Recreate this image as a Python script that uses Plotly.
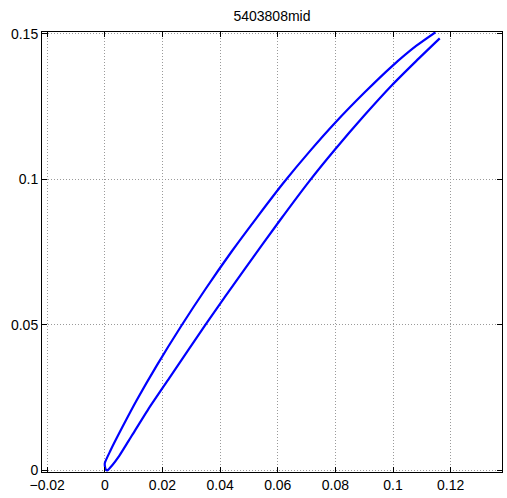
import plotly.graph_objects as go

# Blade section "5403808mid": upper (left) and lower (right) surfaces,
# each listed from the leading edge to the trailing edge.
upper_x = [0.0000, 0.0020, 0.0060, 0.0110, 0.0180, 0.0265, 0.0350, 0.0440, 0.0530,
           0.0620, 0.0710, 0.0800, 0.0900, 0.0996, 0.1080, 0.1147]
upper_y = [0.0025, 0.0069, 0.0147, 0.0240, 0.0360, 0.0496, 0.0624, 0.0752, 0.0872,
           0.0988, 0.1095, 0.1195, 0.1297, 0.1388, 0.1458, 0.1505]

lower_x = [0.0001, 0.0004, 0.0008, 0.0025, 0.0050, 0.0094, 0.0150, 0.0223, 0.0350,
           0.0484, 0.0609, 0.0709, 0.0800, 0.0900, 0.0996, 0.1080, 0.1162]
lower_y = [0.0010, 0.0002, 0.0000, 0.0017, 0.0050, 0.0120, 0.0209, 0.0316, 0.0502,
           0.0690, 0.0861, 0.0993, 0.1104, 0.1219, 0.1323, 0.1406, 0.1484]

x_ticks = [-0.02, 0, 0.02, 0.04, 0.06, 0.08, 0.1, 0.12]
x_labels = ["\u22120.02", "0", "0.02", "0.04", "0.06", "0.08", "0.1", "0.12"]
y_ticks = [0, 0.05, 0.1, 0.15]
y_labels = ["0", "0.05", "0.1", "0.15"]

# One continuous outline: trailing edge -> upper surface -> leading edge -> lower surface
xs = upper_x[::-1] + lower_x
ys = upper_y[::-1] + lower_y

fig = go.Figure(go.Scatter(
    x=xs, y=ys, mode="lines",
    line=dict(color="rgb(0,0,255)", width=2.2, shape="spline", smoothing=0.6),
    hoverinfo="skip",
))

font = dict(family="Liberation Sans, Arial, sans-serif", size=14, color="black")

axis_common = dict(
    showline=True, linecolor="black", linewidth=1, mirror="allticks",
    ticks="inside", ticklen=5, tickcolor="black", tickwidth=1,
    showgrid=True, gridcolor="#9a9a9a", griddash="1px,2px", gridwidth=1,
    zeroline=False, tickfont=font,
)

fig.update_xaxes(range=[-0.0218, 0.1378], tickmode="array", tickvals=x_ticks,
                 ticktext=x_labels, **axis_common)
fig.update_yaxes(range=[-0.00055, 0.1506], tickmode="array", tickvals=y_ticks,
                 ticktext=y_labels, **axis_common)

fig.update_layout(
    width=507, height=498,
    margin=dict(l=42, r=5, t=32, b=26),
    paper_bgcolor="white", plot_bgcolor="white",
    showlegend=False,
    title=dict(text="5403808mid", x=0.5364, xanchor="center", y=0.968, yanchor="middle",
               font=font),
)

fig.write_html("out.html")
